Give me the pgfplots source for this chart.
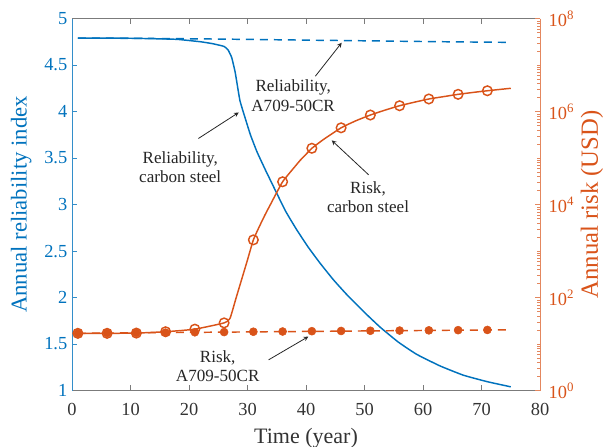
\documentclass[border=0pt]{standalone}
\usepackage{pgfplots}
\pgfplotsset{compat=1.18}
\usepackage{fontspec}
\setmainfont{Liberation Serif}
\definecolor{mblue}{RGB}{0,114,189}
\definecolor{morange}{RGB}{217,83,25}
\definecolor{mgray}{RGB}{90,90,90}
\begin{document}
\begin{tikzpicture}[font=\fontsize{12.8}{14.5}\selectfont]
\begin{axis}[
  name=ax,
  scale only axis, width=351pt, height=279pt,
  xmin=0, xmax=80, ymin=1, ymax=5,
  xtick={0,10,...,80}, ytick={1,1.5,...,5},
  separate axis lines,
  x axis line style={mgray!80},
  y axis line style={mblue!80},
  every x tick/.style={mgray!80},
  every y tick/.style={mblue!80},
  ytick pos=left, xtick pos=both,
  tick align=inside, major tick length=4pt,
  /pgf/number format/assume math mode=true,
  xticklabel style={font=\fontsize{13.8}{15}\selectfont, text=black!80, yshift=-6pt},
  yticklabel style={font=\fontsize{13.8}{15}\selectfont, text=mblue},
  xlabel={Time (year)},
  ylabel={Annual reliability index},
  xlabel style={font=\fontsize{16.5}{18}\selectfont, text=black!80,
    at={(axis description cs:0.5,-0.1416)}, anchor=base},
  ylabel style={font=\fontsize{17}{19}\selectfont, text=mblue,
    at={(axis description cs:-0.1083,0.5)}, anchor=center},
  clip=false,
]
% Reliability, carbon steel
\addplot[mblue, line width=1.1pt, smooth, tension=0.25] coordinates {
 (1,4.79) (5,4.79) (10,4.788) (14,4.783) (18,4.776) (22,4.75) (24,4.73) (26,4.70)
 (26.7,4.66) (27.3,4.58) (27.9,4.42) (28.7,4.12) (29.6,3.93) (30.5,3.75) (31.6,3.57)
 (33,3.38) (34.7,3.16) (36.5,2.93) (38.4,2.73) (40.4,2.54) (42.4,2.37) (44.7,2.19)
 (47,2.03) (50,1.84) (52.7,1.68) (55.8,1.52) (58.9,1.39) (62.9,1.265) (66.9,1.165)
 (71,1.095) (75,1.04)
};
% Reliability, A709-50CR
\addplot[mblue, line width=1.1pt, dash pattern=on 6pt off 4.5pt] coordinates {
 (1,4.79) (11,4.787) (21,4.782) (31,4.775) (41,4.767) (51,4.76) (61,4.752) (71,4.746) (75,4.744)
};
% annotations
\node[align=center, text=black!85] at (axis cs:37.8,4.17) {Reliability,\\A709-50CR};
\draw[-stealth, black!85, line width=0.6pt] (axis cs:41.6,4.38) -- (axis cs:46.1,4.74);
\node[align=center, text=black!85] at (axis cs:18.5,3.40) {Reliability,\\carbon steel};
\draw[-stealth, black!85, line width=0.6pt] (axis cs:21.6,3.71) -- (axis cs:28.5,3.99);
\node[align=center, text=black!85] at (axis cs:50.6,3.08) {Risk,\\carbon steel};
\draw[-stealth, black!85, line width=0.6pt] (axis cs:50.7,3.32) -- (axis cs:44.4,3.69);
\node[align=center, text=black!85] at (axis cs:24.9,1.26) {Risk,\\A709-50CR};
\draw[-stealth, black!85, line width=0.6pt] (axis cs:33.6,1.33) -- (axis cs:40.4,1.58);
\end{axis}
\begin{axis}[
  scale only axis, width=351pt, height=279pt,
  xmin=0, xmax=80, ymode=log, ymin=1, ymax=1e8,
  axis y line*=right, axis x line=none,
  y axis line style={morange!70},
  every y tick/.style={morange!70},
  tick align=inside, major tick length=4pt, minor tick length=2pt,
  ytick={1,1e2,1e4,1e6,1e8},
  yticklabels={10\textsuperscript{0},10\textsuperscript{2},10\textsuperscript{4},10\textsuperscript{6},10\textsuperscript{8}},
  minor ytick={2,3,4,5,6,7,8,9,10,20,30,40,50,60,70,80,90,
    200,300,400,500,600,700,800,900,1000,2000,3000,4000,5000,6000,7000,8000,9000,
    2e4,3e4,4e4,5e4,6e4,7e4,8e4,9e4,1e5,2e5,3e5,4e5,5e5,6e5,7e5,8e5,9e5,
    2e6,3e6,4e6,5e6,6e6,7e6,8e6,9e6,1e7,2e7,3e7,4e7,5e7,6e7,7e7,8e7,9e7},
  yticklabel style={font=\fontsize{13.8}{15}\selectfont, text=morange, xshift=3pt},
  ylabel={Annual risk (USD)},
  ylabel style={font=\fontsize{18.5}{20}\selectfont, text=morange,
    at={(axis description cs:1.111,0.5)}, anchor=center, inner sep=0pt},
]
% Risk, carbon steel line
\addplot[morange, line width=1.1pt, smooth, tension=0.3] coordinates {
 (1,17.0) (6,17.0) (11,17.2) (16,18.4) (21,20.9) (26,28.5) (27,35.5) (28,93.3)
 (29,245.5) (30,645.7) (31,1738) (32,3311) (33,6026) (34,10471) (35,18197)
 (36,30903) (37,44668) (38,63096) (39,89125) (40,120226) (41,162181)
 (43,251189) (46,446684) (48.5,630957) (51,841395) (53.5,1071519) (56,1333521)
 (58.5,1584893) (61,1862087) (63.5,2089296) (66,2344229) (68.5,2570396)
 (71,2798981) (75,3162278)
};
% Risk, carbon steel markers
\addplot[morange, only marks, mark=o, mark size=3.6pt, line width=1.1pt] coordinates {
 (1,17.0) (6,17.0) (11,17.2) (16,18.4) (21,20.9) (26,28.5) (31,1738) (36,30903)
 (41,162181) (46,446684) (51,841395) (56,1333521) (61,1862087) (66,2344229) (71,2798981)
};
% Risk, A709-50CR line
\addplot[morange, line width=1.1pt, dash pattern=on 6pt off 4.5pt] coordinates {
 (1,17.0) (75,20.3)
};
% Risk, A709-50CR markers
\addplot[morange, only marks, mark=*, mark size=3pt] coordinates {
 (1,17.0) (6,17.2) (11,17.4) (16,17.6) (21,17.9) (26,18.1) (31,18.4) (36,18.6)
 (41,18.9) (46,19.1) (51,19.3) (56,19.5) (61,19.7) (66,19.9) (71,20.1)
};
\end{axis}
\pgfresetboundingbox
\path[use as bounding box] ([shift={(-54pt,-42pt)}]ax.south west) rectangle ([shift={(49.5pt,13.9pt)}]ax.north east);
\end{tikzpicture}
\end{document}
